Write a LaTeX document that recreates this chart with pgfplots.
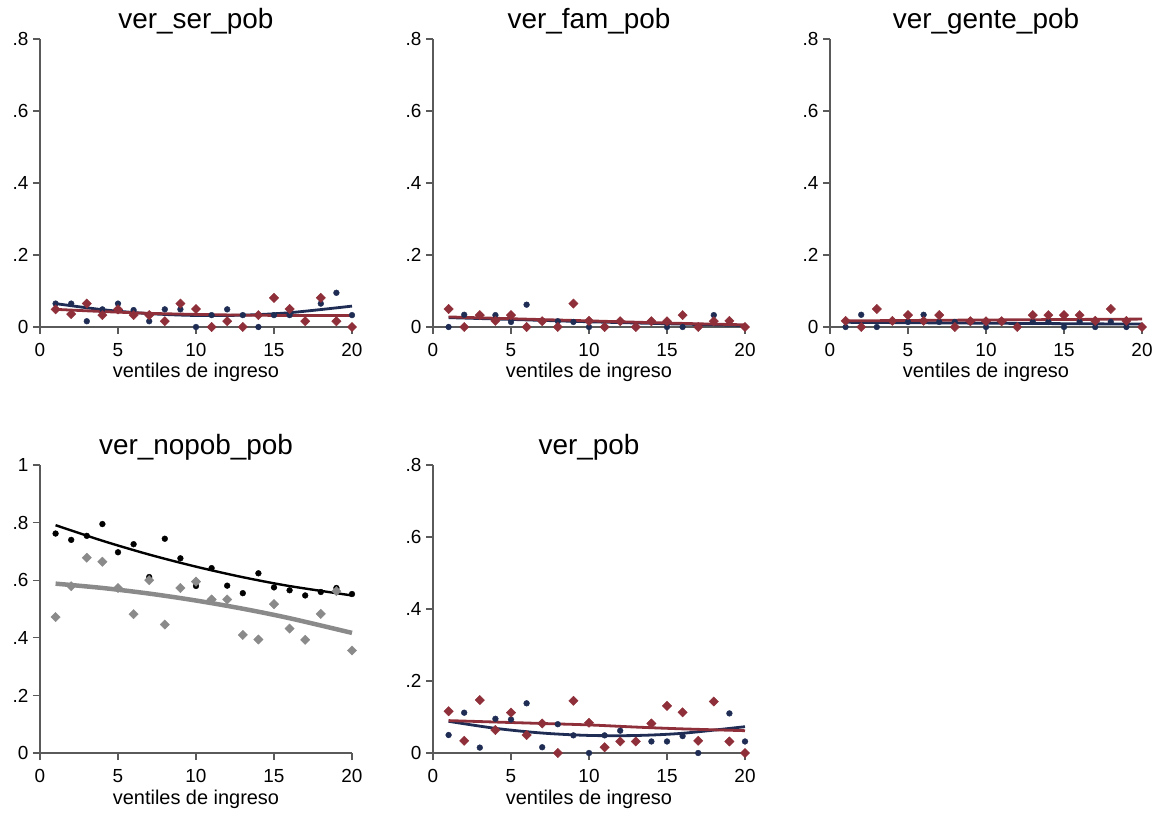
\documentclass[border=0pt]{standalone}
\usepackage{fontspec}
\setmainfont{Liberation Sans}
\usepackage{pgfplots}
\pgfplotsset{compat=1.18}
\definecolor{navyc}{HTML}{1F2D55}
\definecolor{maroonc}{HTML}{8E2F39}
\definecolor{axgray}{HTML}{5A5A5A}
\definecolor{grayc}{HTML}{8A8A8A}
\pgfplotsset{
 panel/.style={
  width=312bp, height=288bp, scale only axis,
  xmin=0, xmax=20, ymin=0, ymax=0.8,
  axis lines*=left,
  axis line style={draw=axgray, line width=1.3bp},
  tick style={draw=axgray, line width=1.1bp},
  tick align=outside, major tick length=7bp,
  xtick={0,5,10,15,20}, xticklabels={0,5,10,15,20},
  ytick={0,0.2,0.4,0.6,0.8}, yticklabels={0,.2,.4,.6,.8},
  clip=false,
  ticklabel style={font=\fontsize{19}{19}\selectfont},
  xticklabel style={yshift=-6bp},
  yticklabel style={xshift=-1bp},
  title style={font=\fontsize{28}{28}\selectfont, at={(axis description cs:0.5,1)}, anchor=base, yshift=5bp},
  xlabel={ventiles de ingreso},
  xlabel style={font=\fontsize{20}{20}\selectfont, at={(axis description cs:0.5,0)}, anchor=base, yshift=-51bp},
 },
 navyp/.style={only marks, mark=*, mark size=2.9bp, color=navyc},
 maroonp/.style={only marks, mark=square*, mark size=3.3bp, mark options={rotate=45}, color=maroonc},
 navyl/.style={no marks, smooth, color=navyc, line width=2.8bp},
 maroonl/.style={no marks, smooth, color=maroonc, line width=2.8bp},
}
\begin{document}
\begin{tikzpicture}
\path[use as bounding box] (0,0) rectangle (1162bp,813bp);
% Panel 1
\begin{axis}[panel, at={(40bp,486bp)}, anchor=origin, title={ver\_ser\_pob}]
\addplot[navyp] coordinates {(1,0.065)(2,0.065)(3,0.016)(4,0.049)(5,0.065)(6,0.047)(7,0.016)(8,0.049)(9,0.049)(10,0)(11,0.033)(12,0.049)(13,0.033)(14,0)(15,0.033)(16,0.033)(17,0.016)(18,0.065)(19,0.095)(20,0.033)};
\addplot[maroonp] coordinates {(1,0.049)(2,0.036)(3,0.065)(4,0.033)(5,0.049)(6,0.033)(7,0.033)(8,0.016)(9,0.065)(10,0.05)(11,0)(12,0.016)(13,0)(14,0.033)(15,0.081)(16,0.05)(17,0.016)(18,0.081)(19,0.016)(20,0)};
\addplot[navyl] coordinates {(1,0.065)(4,0.0481)(7,0.0371)(10,0.032)(13,0.0329)(16,0.0397)(20,0.058)};
\addplot[maroonl] coordinates {(1,0.049)(4,0.043)(7,0.038)(10,0.035)(13,0.033)(16,0.032)(20,0.032)};
\end{axis}
% Panel 2
\begin{axis}[panel, at={(433bp,486bp)}, anchor=origin, title={ver\_fam\_pob}]
\addplot[navyp] coordinates {(1,0)(2,0.034)(3,0.033)(4,0.033)(5,0.014)(6,0.062)(7,0.016)(8,0.016)(9,0.014)(10,0)(11,0)(12,0.016)(13,0)(14,0.016)(15,0)(16,0)(17,0)(18,0.033)(19,0.016)(20,0)};
\addplot[maroonp] coordinates {(1,0.05)(2,0)(3,0.033)(4,0.017)(5,0.033)(6,0)(7,0.016)(8,0)(9,0.065)(10,0.017)(11,0)(12,0.016)(13,0)(14,0.016)(15,0.016)(16,0.033)(17,0)(18,0.016)(19,0.017)(20,0)};
\addplot[navyl] coordinates {(1,0.026)(5,0.021)(10,0.0145)(15,0.009)(20,0.004)};
\addplot[maroonl] coordinates {(1,0.028)(5,0.023)(10,0.017)(15,0.011)(20,0.006)};
\end{axis}
% Panel 3
\begin{axis}[panel, at={(830bp,486bp)}, anchor=origin, title={ver\_gente\_pob}]
\addplot[navyp] coordinates {(1,0)(2,0.034)(3,0)(4,0.016)(5,0.014)(6,0.034)(7,0.014)(8,0.014)(9,0.016)(10,0)(11,0.016)(12,0)(13,0.014)(14,0.014)(15,0)(16,0.014)(17,0)(18,0.014)(19,0)(20,0)};
\addplot[maroonp] coordinates {(1,0.017)(2,0)(3,0.05)(4,0.017)(5,0.033)(6,0.017)(7,0.033)(8,0)(9,0.016)(10,0.016)(11,0.016)(12,0)(13,0.033)(14,0.033)(15,0.033)(16,0.033)(17,0.017)(18,0.05)(19,0.017)(20,0)};
\addplot[navyl] coordinates {(1,0.013)(10,0.0105)(20,0.008)};
\addplot[maroonl] coordinates {(1,0.017)(10,0.0195)(20,0.022)};
\end{axis}
% Panel 4
\begin{axis}[panel, at={(40bp,60bp)}, anchor=origin, title={ver\_nopob\_pob}, ymax=1,
  ytick={0,0.2,0.4,0.6,0.8,1}, yticklabels={0,.2,.4,.6,.8,1}]
\addplot[only marks, mark=*, mark size=2.9bp, color=black] coordinates {(1,0.762)(2,0.74)(3,0.754)(4,0.795)(5,0.697)(6,0.725)(7,0.611)(8,0.744)(9,0.676)(10,0.58)(11,0.642)(12,0.581)(13,0.555)(14,0.624)(15,0.575)(16,0.565)(17,0.547)(18,0.559)(19,0.573)(20,0.552)};
\addplot[only marks, mark=square*, mark size=3.3bp, mark options={rotate=45}, color=grayc] coordinates {(1,0.472)(2,0.579)(3,0.678)(4,0.664)(5,0.573)(6,0.482)(7,0.6)(8,0.446)(9,0.573)(10,0.595)(11,0.533)(12,0.533)(13,0.41)(14,0.394)(15,0.517)(16,0.432)(17,0.393)(18,0.483)(19,0.562)(20,0.356)};
\addplot[no marks, smooth, color=black, line width=2.4bp] coordinates {(1,0.791)(4,0.737)(7,0.689)(10,0.647)(13,0.6104)(16,0.5796)(20,0.547)};
\addplot[no marks, smooth, color=grayc, line width=4.5bp] coordinates {(1,0.588)(4,0.573)(7,0.5535)(10,0.5294)(13,0.501)(16,0.468)(20,0.417)};
\end{axis}
% Panel 5
\begin{axis}[panel, at={(433bp,60bp)}, anchor=origin, title={ver\_pob}]
\addplot[navyp] coordinates {(1,0.05)(2,0.112)(3,0.015)(4,0.095)(5,0.093)(6,0.138)(7,0.016)(8,0.08)(9,0.049)(10,0)(11,0.049)(12,0.062)(13,0.032)(14,0.032)(15,0.032)(16,0.047)(17,0)(18,0.143)(19,0.11)(20,0.032)};
\addplot[maroonp] coordinates {(1,0.116)(2,0.034)(3,0.147)(4,0.064)(5,0.112)(6,0.05)(7,0.082)(8,0)(9,0.145)(10,0.084)(11,0.016)(12,0.032)(13,0.032)(14,0.082)(15,0.131)(16,0.113)(17,0.034)(18,0.143)(19,0.032)(20,0)};
\addplot[navyl] coordinates {(1,0.088)(4,0.0685)(7,0.0554)(10,0.0488)(13,0.0486)(16,0.0548)(20,0.0731)};
\addplot[maroonl] coordinates {(1,0.09)(4,0.086)(7,0.082)(10,0.078)(13,0.072)(16,0.067)(20,0.062)};
\end{axis}
\end{tikzpicture}
\end{document}
